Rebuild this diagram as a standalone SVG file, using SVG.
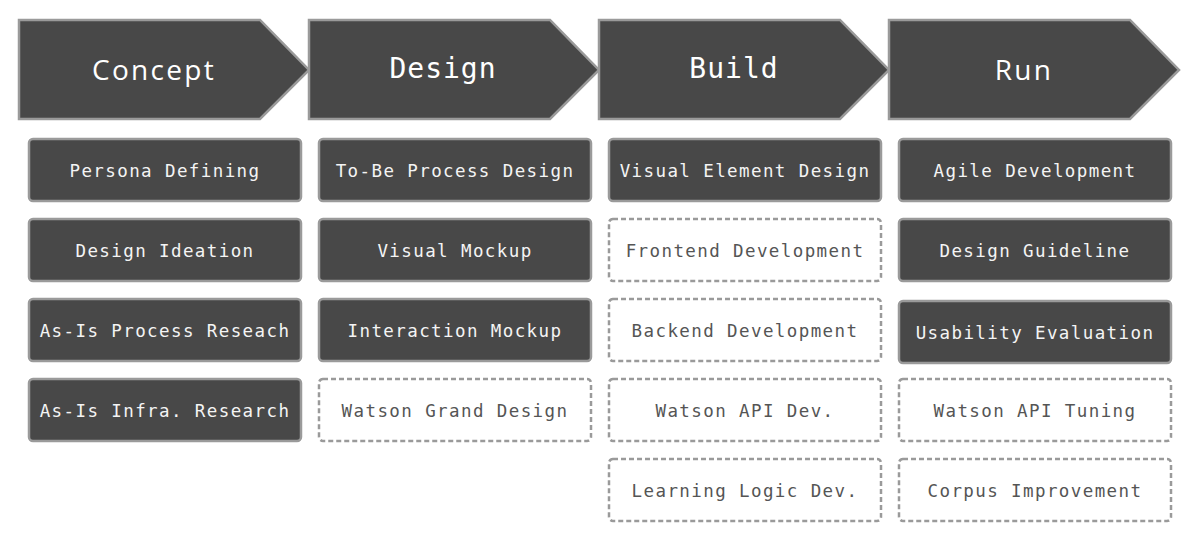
<svg xmlns="http://www.w3.org/2000/svg" width="1200" height="540" viewBox="0 0 1200 540">
<style>
.arrow{fill:#484848;stroke:#9a9a9a;stroke-width:2.5;stroke-linejoin:miter}
.ht{fill:#ffffff;font-size:28px;text-anchor:middle}
.mono{font-family:"DejaVu Sans Mono","Liberation Mono",monospace;letter-spacing:1px}
.sans{font-family:"Open Sans","Noto Sans",sans-serif;letter-spacing:2.3px}
.solid{fill:#484848;stroke:#9a9a9a;stroke-width:2.5}
.dash{fill:#ffffff;stroke:#9a9a9a;stroke-width:2.5;stroke-dasharray:5 3}
.bt{font-family:"DejaVu Sans Mono","Liberation Mono",monospace;font-size:17.5px;letter-spacing:1.4px;text-anchor:middle}
.st{fill:#f4f4f4}
.dt{fill:#555555}
</style>
<rect width="1200" height="540" fill="#ffffff"/>
<g id="phase-concept">
<polygon class="arrow" points="19,20 260,20 309,70 260,119 19,119"/>
<text class="ht sans" x="154" y="80">Concept</text>
</g>
<g id="phase-design">
<polygon class="arrow" points="309,20 550,20 599,70 550,119 309,119"/>
<text class="ht mono" x="443" y="78">Design</text>
</g>
<g id="phase-build">
<polygon class="arrow" points="599,20 840,20 889,70 840,119 599,119"/>
<text class="ht mono" x="734" y="78">Build</text>
</g>
<g id="phase-run">
<polygon class="arrow" points="889,20 1130,20 1179,70 1130,119 889,119"/>
<text class="ht sans" x="1024" y="80">Run</text>
</g>

<g id="concept-1"><rect class="solid" x="29" y="139" width="272" height="62" rx="4"/><text class="bt st" x="165" y="177">Persona Defining</text></g>
<g id="concept-2"><rect class="solid" x="29" y="219" width="272" height="62" rx="4"/><text class="bt st" x="165" y="257">Design Ideation</text></g>
<g id="concept-3"><rect class="solid" x="29" y="299" width="272" height="62" rx="4"/><text class="bt st" x="165" y="337">As-Is Process Reseach</text></g>
<g id="concept-4"><rect class="solid" x="29" y="379" width="272" height="62" rx="4"/><text class="bt st" x="165" y="417">As-Is Infra. Research</text></g>

<g id="design-1"><rect class="solid" x="319" y="139" width="272" height="62" rx="4"/><text class="bt st" x="455" y="177">To-Be Process Design</text></g>
<g id="design-2"><rect class="solid" x="319" y="219" width="272" height="62" rx="4"/><text class="bt st" x="455" y="257">Visual Mockup</text></g>
<g id="design-3"><rect class="solid" x="319" y="299" width="272" height="62" rx="4"/><text class="bt st" x="455" y="337">Interaction Mockup</text></g>
<g id="design-4"><rect class="dash" x="319" y="379" width="272" height="62" rx="4"/><text class="bt dt" x="455" y="417">Watson Grand Design</text></g>

<g id="build-1"><rect class="solid" x="609" y="139" width="272" height="62" rx="4"/><text class="bt st" x="745" y="177">Visual Element Design</text></g>
<g id="build-2"><rect class="dash" x="609" y="219" width="272" height="62" rx="4"/><text class="bt dt" x="745" y="257">Frontend Development</text></g>
<g id="build-3"><rect class="dash" x="609" y="299" width="272" height="62" rx="4"/><text class="bt dt" x="745" y="337">Backend Development</text></g>
<g id="build-4"><rect class="dash" x="609" y="379" width="272" height="62" rx="4"/><text class="bt dt" x="745" y="417">Watson API Dev.</text></g>
<g id="build-5"><rect class="dash" x="609" y="459" width="272" height="62" rx="4"/><text class="bt dt" x="745" y="497">Learning Logic Dev.</text></g>

<g id="run-1"><rect class="solid" x="899" y="139" width="272" height="62" rx="4"/><text class="bt st" x="1035" y="177">Agile Development</text></g>
<g id="run-2"><rect class="solid" x="899" y="219" width="272" height="62" rx="4"/><text class="bt st" x="1035" y="257">Design Guideline</text></g>
<g id="run-3"><rect class="solid" x="899" y="301" width="272" height="62" rx="4"/><text class="bt st" x="1035" y="339">Usability Evaluation</text></g>
<g id="run-4"><rect class="dash" x="899" y="379" width="272" height="62" rx="4"/><text class="bt dt" x="1035" y="417">Watson API Tuning</text></g>
<g id="run-5"><rect class="dash" x="899" y="459" width="272" height="62" rx="4"/><text class="bt dt" x="1035" y="497">Corpus Improvement</text></g>
<g id="connectors"></g>
</svg>
